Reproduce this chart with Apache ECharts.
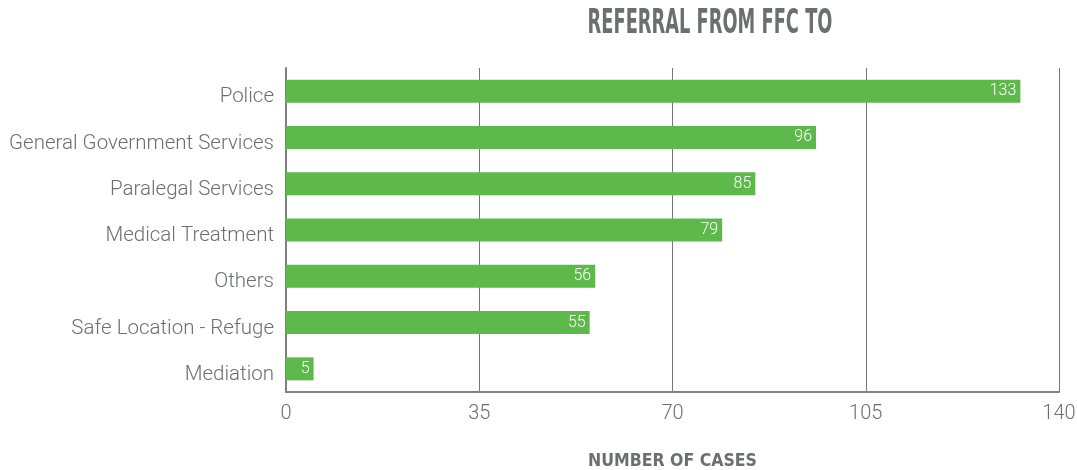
<!DOCTYPE html>
<html>
<head>
<meta charset="utf-8">
<script src="https://cdn.jsdelivr.net/npm/echarts@6/dist/echarts.min.js"></script>
<style>
  html, body { margin: 0; padding: 0; background: #fff; }
  #main { width: 1077px; height: 470px; }
</style>
</head>
<body>
<div id="main"></div>
<script>
var categories = ['Police', 'General Government Services', 'Paralegal Services', 'Medical Treatment', 'Others', 'Safe Location - Refuge', 'Mediation'];
var caseCounts = [133, 96, 85, 79, 56, 55, 5];
var xTicks = [0, 35, 70, 105, 140];

var myChart = echarts.init(document.getElementById('main'));

var headFont = "'DejaVu Sans Condensed', 'Roboto', sans-serif";

var option = {
    animation: false,
    // title squeezed horizontally to look like the condensed original
    graphic: [{
        type: 'text',
        x: 710,
        y: 24,
        scaleX: 0.6,
        style: {
            text: 'REFERRAL FROM FFC TO',
            textAlign: 'center',
            textVerticalAlign: 'middle',
            font: "bold 33px 'DejaVu Sans Condensed', sans-serif",
            fill: '#6d6e71'
        }
    }],
    grid: {
        left: 286,
        right: 18,
        top: 68,
        bottom: 78,
        outerBoundsMode: 'none'
    },
    xAxis: {
        type: 'value',
        min: xTicks[0],
        max: xTicks[xTicks.length - 1],
        interval: 35,
        name: 'NUMBER OF CASES',
        nameLocation: 'middle',
        nameGap: 60,
        nameTextStyle: {
            fontFamily: headFont,
            fontWeight: 'bold',
            fontSize: 17.5,
            color: '#6d6e71'
        },
        axisLine: { show: true, lineStyle: { color: '#808080', width: 2 } },
        axisTick: { show: false },
        axisLabel: {
            margin: 12,
            fontFamily: 'Roboto',
            fontWeight: 300,
            fontSize: 20,
            color: '#6d6e71'
        },
        splitLine: { show: true, lineStyle: { color: '#777', width: 1 } }
    },
    yAxis: {
        type: 'category',
        inverse: true,
        data: categories,
        axisLine: { show: true, lineStyle: { color: '#808080', width: 2 } },
        axisTick: { show: false },
        axisLabel: {
            margin: 12,
            formatter: function (v) { return '{a|' + v + '}'; },
            rich: {
                a: {
                    padding: [12, 0, 0, 0],
                    fontFamily: 'Roboto',
                    fontWeight: 300,
                    fontSize: 20.5,
                    color: '#6d6e71'
                }
            }
        }
    },
    series: [{
        type: 'bar',
        data: caseCounts,
        barWidth: 23,
        itemStyle: { color: '#5dba4a' },
        label: {
            show: true,
            position: 'insideRight',
            distance: 4,
            color: '#fff',
            fontFamily: 'Roboto',
            fontWeight: 300,
            fontSize: 16
        }
    }]
};

myChart.setOption(option);
</script>
</body>
</html>
